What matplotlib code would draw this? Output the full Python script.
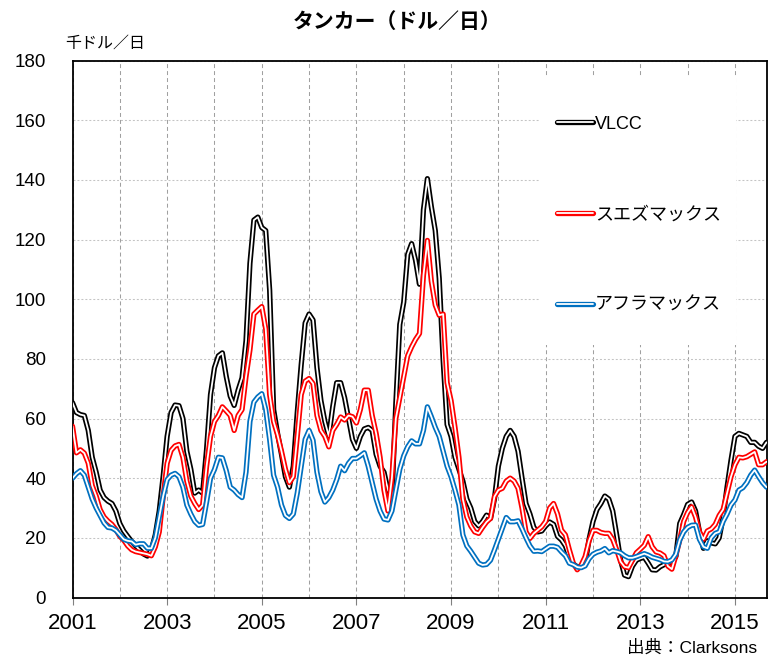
import numpy as np
import matplotlib
matplotlib.use('Agg')
import matplotlib.pyplot as plt
import matplotlib.patheffects as pe
from matplotlib.patches import Rectangle

plt.rcParams['font.family'] = ['Liberation Sans', 'Noto Sans CJK JP', 'DejaVu Sans']

# monthly data, Jan 2001 .. Sep 2015 (thousand USD/day)
start_year = 2001
vlcc = [
    65.3, 62, 61.3, 61, 56, 47, 42, 36, 33.5, 32.3,
    31.5, 29, 24.8, 22.3, 20.5, 18.8, 17.3, 16, 14.6, 13.9,
    16, 21, 29, 40.7, 54, 62, 64.5, 64.3, 60, 49,
    43, 35, 36, 35, 49.6, 68, 77, 81, 82, 74,
    67.5, 64.4, 69.5, 73.6, 86, 112, 126.5, 127.5, 124, 123,
    103, 63, 55, 48, 40.5, 37, 44, 62, 78, 92,
    95, 93, 77, 66, 59, 54, 64, 72, 72, 67,
    60, 53, 50, 54, 56.5, 57, 56, 48, 44, 42,
    36, 33.5, 65, 91.5, 99, 115, 118.6, 113, 105, 130,
    140.4, 131, 123, 107, 79.5, 58, 54, 47, 43, 39,
    33, 30, 25.5, 24, 25.5, 27.6, 26.5, 33, 44, 50,
    54, 56, 54, 49, 40, 31.5, 28, 23.5, 22, 22.3,
    24, 25.3, 24.5, 20.5, 19.3, 17.3, 13.5, 11.2, 10.3, 10.3,
    11.4, 19.5, 25.5, 29.5, 31.5, 34, 33, 29, 21, 12.5,
    7.5, 7, 10.5, 12.5, 13.1, 13.5, 11.5, 9.3, 9.2, 10.3,
    11, 11.4, 12, 13.7, 24.8, 27.8, 31.2, 32, 29, 22,
    16.5, 19, 18.3, 18, 20, 27, 37, 46, 54, 55,
    54.5, 54, 52, 52, 50.7, 50, 52,
]
suezmax = [
    57.4, 48.5, 49.5, 48.4, 45, 37.5, 34, 29.5, 27, 25.6,
    24.5, 22.8, 20.5, 19.2, 17.3, 16, 15.4, 15.1, 14.8, 14.5,
    14, 17, 22, 34, 45, 49.3, 50.8, 51.3, 47, 39,
    34, 31.5, 29.5, 31, 44, 54, 59, 61, 63.9, 62.5,
    61, 56, 61, 63, 74, 83, 95, 96.3, 97.5, 90,
    68, 59, 54.5, 49, 43, 38.5, 40.5, 54, 68, 72.5,
    73.4, 71.7, 61, 56, 54, 50.5, 56, 58, 60.5, 59.5,
    61, 60.6, 58.5, 63, 69.5, 69.5, 61, 55, 47, 36,
    29, 40, 60, 67, 74, 81, 84, 86.5, 88.5, 108,
    119.7, 106, 98, 94.6, 95, 72, 66, 57, 47, 33,
    27, 24, 22, 21.5, 23.5, 25.3, 26.5, 33.8, 36, 36.6,
    39, 40, 39, 36.6, 30, 22, 19.8, 21.5, 22.6, 23.7,
    25.5, 30, 31.5, 28, 22.6, 21, 16, 11.5, 9.3, 10.9,
    13.7, 19, 22.5, 22.5, 21.8, 21.5, 21.5, 19.5, 16, 12,
    10.3, 10, 12.5, 15, 16.2, 17.5, 20.4, 17, 15.3, 14.9,
    14, 10.5, 9.5, 14, 19.3, 25.5, 28.5, 30.4, 27, 22,
    19.5, 22.3, 23, 24.5, 27.5, 29.5, 35, 40.5, 44.5, 47,
    46.8, 47.2, 48, 48.8, 44.5, 44.5, 45.5,
]
aframax = [
    40, 41.5, 42.5, 41, 37, 33, 30, 27.5, 25, 23.5,
    23.3, 22.5, 21, 19.5, 19, 18.8, 17.7, 18, 18, 16.5,
    16.5, 20, 27, 34, 39.5, 41, 41.6, 40.5, 37, 31,
    28, 25.5, 24.2, 24.5, 32, 40, 42.9, 47, 46.8, 42.5,
    37, 36, 34.5, 33.5, 42, 59, 65.5, 67.2, 68.3, 63,
    53, 41, 37, 31, 27.5, 26.5, 28, 35, 44, 53,
    56, 52.7, 42, 35.5, 32, 33.5, 36, 39.5, 44, 42.5,
    45, 46.6, 46.6, 47.5, 48.5, 44, 38.5, 33, 29, 26.3,
    26, 29, 36, 43, 47.5, 50.5, 52.5, 51.5, 51.5, 56,
    63.9, 60.6, 57, 54, 49, 44, 40.5, 36, 31, 21,
    17.3, 15.5, 13.5, 11.5, 10.9, 11.1, 12.5, 15.9, 19.5, 23.2,
    26.8, 25.4, 25.4, 25.7, 23, 20, 17.3, 15.5, 15.6, 15.4,
    16.3, 17.2, 17.2, 16.8, 15.3, 14, 11.5, 11, 10.2, 10,
    10.6, 13, 14.5, 15.2, 15.6, 16.4, 15, 15.7, 15.4, 15,
    14, 13.3, 13.3, 13.7, 14.2, 14.7, 14.2, 13.5, 13.1, 12.7,
    12.1, 12, 12.6, 14.5, 19.3, 22, 23.5, 24.2, 24.3, 19.5,
    17, 16.5, 20, 21.5, 22, 25.5, 28, 31, 32.7, 36,
    36.8, 38.5, 41, 42.7, 40.5, 38.5, 37,
]
series_names = ['VLCC', 'スエズマックス', 'アフラマックス']
series_values = [vlcc, suezmax, aframax]
series_colors = ['#000000', '#FF0000', '#0070C0']
year_ticks = list(range(2001, 2016, 2))
minor_years = list(range(2002, 2016, 2))
y_ticks = list(range(0, 181, 20))

months = np.arange(len(vlcc))
x = start_year + months / 12.0

fig = plt.figure(figsize=(7.76, 6.59), dpi=100)
ax = fig.add_axes([72.5 / 776, 61.5 / 659, 694 / 776, 537 / 659])
ax.set_axisbelow(True)

for i, (vals, col, name) in enumerate(zip(series_values, series_colors, series_names)):
    ax.plot(x, vals, color='white', lw=1.3, solid_joinstyle='round',
            solid_capstyle='round', zorder=3 + i, label=name,
            path_effects=[pe.Stroke(linewidth=3.8, foreground=col), pe.Normal()])

ax.set_xlim(start_year, start_year + (len(vlcc) - 1) / 12.0)
ax.set_ylim(0, 180)
ax.set_xticks(year_ticks)
ax.set_xticklabels([str(y) for y in year_ticks])
ax.set_xticks(minor_years, minor=True)
ax.set_yticks(y_ticks)

ax.grid(axis='x', which='both', color='#A0A0A0', linestyle=(0, (3.8, 2.9)), lw=0.75)
ax.grid(axis='y', which='major', color='#C4C4C4', linestyle=(0, (1.9, 1.9)), lw=0.75)

ax.tick_params(axis='x', which='major', length=5, width=0.8, color='#808080',
               pad=6, labelsize=16, direction='out')
ax.tick_params(axis='x', which='minor', length=0)
ax.tick_params(axis='y', length=0, pad=19, labelsize=13.5)

for sp in ax.spines.values():
    sp.set_linewidth(1.3)
    sp.set_color('black')

# white legend panel
ax.add_patch(Rectangle((0.6736, 0.4702), 0.2824, 0.5009, transform=ax.transAxes,
                       facecolor='white', edgecolor='none', zorder=1))

ax.legend(loc='upper left', bbox_to_anchor=(0.698, 0.8975), frameon=False,
          fontsize=13, handlelength=2.0, handletextpad=0.1, labelspacing=4.08,
          borderpad=0, borderaxespad=0)

fig.text(397 / 776, 1 - 22 / 659, 'タンカー（ドル／日）', ha='center', va='center',
         fontsize=15, fontweight='bold')
fig.text(65 / 776, 1 - 43.5 / 659, '千ドル／日', ha='left', va='center', fontsize=11.5)
fig.text(757 / 776, 1 - 648 / 659, '出典：Clarksons', ha='right', va='center', fontsize=12.6)

fig.savefig('out.png', dpi=100)
